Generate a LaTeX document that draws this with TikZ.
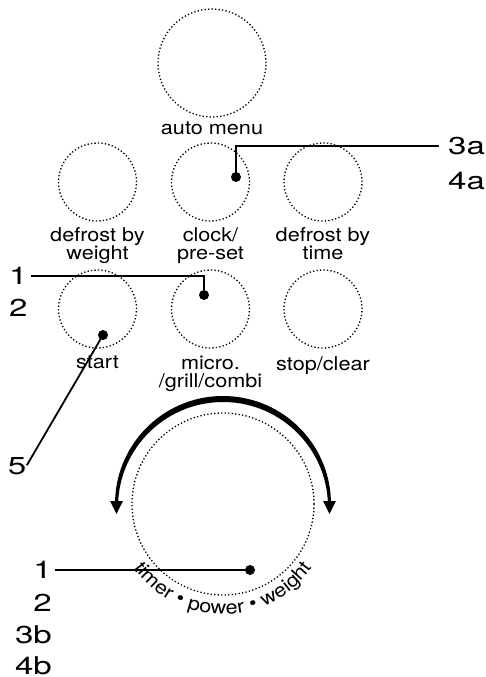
\documentclass[tikz,border=0pt]{standalone}
\usepackage{fontspec}
\newfontfamily\capfam[FakeStretch=1.14]{TeX Gyre Heros}
\newfontfamily\numfam[FakeStretch=1.35]{TeX Gyre Heros}
\usetikzlibrary{calc,arrows.meta,decorations.text}
\def\capfont{\capfam\fontsize{19}{18}\selectfont}
\def\numfont{\numfam\fontsize{24.5}{26}\selectfont}
\def\pin(#1){\fill (#1) circle (5);}
\tikzset{
	button/.style={circle, draw, line width=1.3pt, dash pattern=on 1.3pt off 2.2pt, inner sep=0pt, minimum size=#1},
	button/.default=78pt,
	caption/.style={font=\capfont, align=center, inner sep=0pt, anchor=north},
	num/.style={font=\numfont, inner sep=0pt},
	leader/.style={line width=1.8pt},
}
\begin{document}
\begin{tikzpicture}[x=1pt,y=-1pt]
			%%%%% START %%%%%
			\useasboundingbox (0,0) rectangle (485,677);
			
			% buttons
			\node[button=108pt] (auto) at (212,63) {};
			\node[button] (dweight) at (97.5,182) {};
			\node[button] (clock) at (210.5,182) {};
			\node[button] (dtime) at (323,182) {};
			\node[button] (start) at (97.5,309) {};
			\node[button] (micro) at (210.5,309) {};
			\node[button] (stop) at (323,309) {};
			\node[button=182pt] (dial) at (223,504) {};
			
			% captions
			\node[caption] (autotxt) at (212,122) {auto menu};
			\node[caption] (dweighttxt) at (97.5,227) {defrost by\\weight};
			\node[caption] (clocktxt) at (210.5,227) {clock/\\pre-set};
			\node[caption] (dtimetxt) at (323,227) {defrost by\\time};
			\node[caption] (starttxt) at (97.5,356) {start};
			\node[caption] (microtxt) at (210.5,356) {micro.\\/grill/combi};
			\node[caption] (stoptxt) at (323,356) {stop/clear};
			
			% turning arrow
			\fill ($(dial.center)+(182:108)$) arc[start angle=182, end angle=358, radius=108]
				-- ($(dial.center)+(0,3)+(358:105)$) arc[start angle=358, end angle=182, radius=105] -- cycle;
			\draw[line width=2.6pt, -{Triangle[length=13pt,width=12pt]}] (116.5,497) -- (116.5,514);
			\draw[line width=2.6pt, -{Triangle[length=13pt,width=12pt]}] (329.5,497) -- (329.5,514);
			\path[decorate, decoration={text along path, text align=center,
				text={|\capfont|timer • power • weight}}]
				($(dial.center)+(152:110)$) arc[start angle=152, end angle=28, radius=110];
			
			% numbers
			\node[num, anchor=west] (n3a) at (448,146) {3a};
			\node[num, anchor=west] (n4a) at (448,181) {4a};
			\node[num, anchor=west] (n1a) at (9,276) {1};
			\node[num, anchor=west] (n2a) at (9,308) {2};
			\node[num] (n5) at (17,466) {5};
			\node[num, anchor=east] (n1b) at (52,570) {1};
			\node[num, anchor=east] (n2b) at (52,603) {2};
			\node[num, anchor=east] (n3b) at (52,635) {3b};
			\node[num, anchor=east] (n4b) at (52,666) {4b};
			
			% leaders
			\coordinate (clockpin) at (236,177);
			\coordinate (micropin) at (204,295);
			\coordinate (startpin) at (103,335);
			\coordinate (dialpin) at (250,570);
			\pin(clockpin) \pin(micropin) \pin(startpin) \pin(dialpin)
			\draw[leader, shorten >=9pt] (clockpin) |- (n3a.west);
			\draw[leader, shorten >=3.5pt] (micropin) |- (n1a.east);
			\draw[leader, shorten >=1pt] (startpin) -- (n5.east);
			\draw[leader, shorten >=3pt] (dialpin) -- (n1b.east);
			
			%%%%% END %%%%%
\end{tikzpicture}
\end{document}
